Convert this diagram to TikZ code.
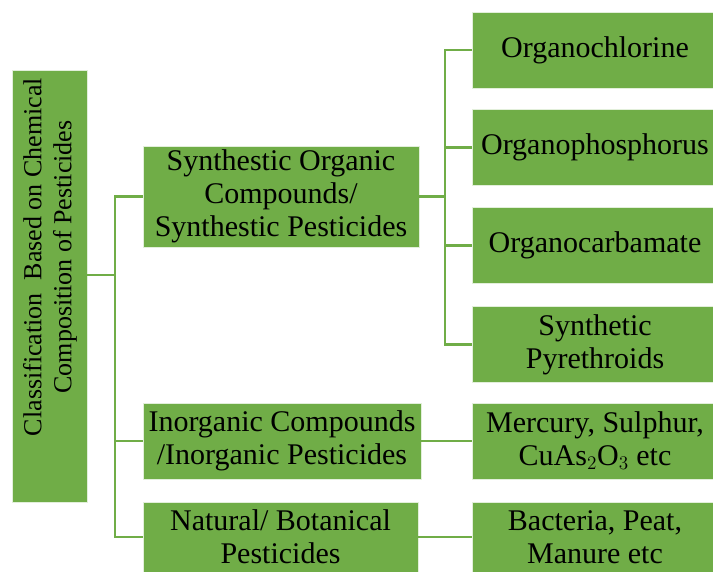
\documentclass[tikz,border=0pt]{standalone}
\usepackage{fontspec}
\setmainfont{Liberation Serif}
\usepackage{xcolor}
\definecolor{LeafGreen}{HTML}{70AD47}
\definecolor{EdgeGreen}{HTML}{E2EFDA}
\usepackage{tikz}
\usetikzlibrary{positioning}

\begin{document}
\begin{tikzpicture}[x=0.75pt, y=-0.75pt,
    greenbox/.style={fill=LeafGreen, draw=EdgeGreen, line width=0.6pt, inner sep=0pt, align=center, text=black, font=\rmfamily\fontsize{22.5}{24.75}\selectfont},
    link/.style={draw=LeafGreen, line width=2pt}]
    \useasboundingbox (0, 0) rectangle (713, 571);
    % root
    \node[greenbox, rotate=90, minimum width=324pt, minimum height=56.25pt] (cls) at (49.5, 286) {};
    \node[rotate=90, align=center, font=\rmfamily\fontsize{19.5}{22.5}\selectfont] (clstext) at (50, 257) {Classification\ \ Based on Chemical\\Composition of Pesticides};
    % middle column
    \node[greenbox, minimum width=207pt, minimum height=75.75pt] (syn) at (281, 196.5) {Synthestic Organic\\Compounds/\\Synthestic Pesticides};
    \node[greenbox, minimum width=208.5pt, minimum height=57pt] (inorg) at (282, 441) {Inorganic Compounds\\/Inorganic Pesticides};
    \node[greenbox, minimum width=206.25pt, minimum height=52.5pt] (nat) at (280.5, 537) {Natural/ Botanical\\Pesticides};
    % right column
    \node[greenbox, minimum width=184.5pt, minimum height=57pt] (ocl) at (595, 50) {Organochlorine};
    \node[greenbox, minimum width=184.5pt, minimum height=57pt] (oph) at (595, 147.5) {Organophosphorus};
    \node[greenbox, minimum width=184.5pt, minimum height=57pt] (ocb) at (595, 245.5) {Organocarbamate};
    \node[greenbox, minimum width=184.5pt, minimum height=57pt] (pyr) at (595, 344.5) {Synthetic\\Pyrethroids};
    \node[greenbox, minimum width=184.5pt, minimum height=57pt] (merc) at (595, 441) {Mercury, Sulphur,\\CuAs$_2$O$_3$ etc};
    \node[greenbox, minimum width=184.5pt, minimum height=52.5pt] (bact) at (595, 537) {Bacteria, Peat,\\Manure etc};
    % connectors
    \coordinate (trunk) at (115, 275);
    \coordinate (synbus) at (445, 196.5);
    \draw[link] (cls.south |- trunk) -- (trunk);
    \draw[link] (syn.west) -| (trunk) |- (nat.west);
    \draw[link] (trunk |- inorg.west) -- (inorg.west);
    \draw[link] (syn.east) -- (synbus);
    \draw[link] (ocl.west) -| (synbus) |- (pyr.west);
    \draw[link] (synbus |- oph.west) -- (oph.west);
    \draw[link] (synbus |- ocb.west) -- (ocb.west);
    \draw[link] (inorg.east) -- (merc.west);
    \draw[link] (nat.east) -- (bact.west);
\end{tikzpicture}
\end{document}
